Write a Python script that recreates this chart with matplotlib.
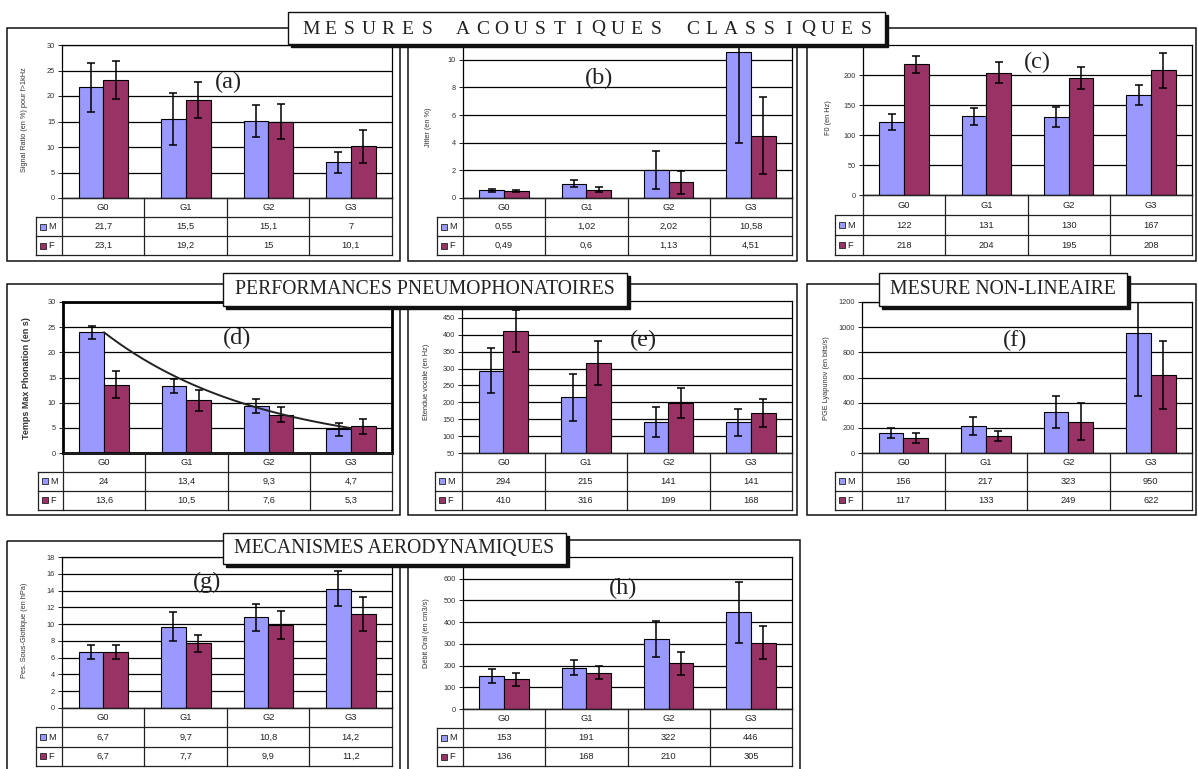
import numpy as np
import matplotlib
matplotlib.use('Agg')
import matplotlib.pyplot as plt
from matplotlib.patches import Rectangle

W, H = 1198, 769

# ---------------- data ----------------
cats = ['G0', 'G1', 'G2', 'G3']

a_M = [21.7, 15.5, 15.1, 7]
a_F = [23.1, 19.2, 15, 10.1]
a_Merr = [4.8, 5.1, 3.2, 2.0]
a_Ferr = [3.7, 3.6, 3.5, 3.2]

b_M = [0.55, 1.02, 2.02, 10.58]
b_F = [0.49, 0.6, 1.13, 4.51]
b_Merr = [0.13, 0.26, 1.39, 6.6]
b_Ferr = [0.08, 0.2, 0.83, 2.78]

c_M = [122, 131, 130, 167]
c_F = [218, 204, 195, 208]
c_Merr = [13, 14, 16, 17]
c_Ferr = [14, 17, 19, 29]

d_M = [24, 13.4, 9.3, 4.7]
d_F = [13.6, 10.5, 7.6, 5.3]
d_Merr = [1.3, 1.4, 1.4, 1.3]
d_Ferr = [2.6, 2.1, 1.5, 1.5]

e_M = [294, 215, 141, 141]
e_F = [410, 316, 199, 168]
e_Merr = [66, 69, 44, 40]
e_Ferr = [62, 65, 44, 42]

f_M = [156, 217, 323, 950]
f_F = [117, 133, 249, 622]
f_Merr = [40, 73, 127, 497]
f_Ferr = [38, 38, 148, 270]

g_M = [6.7, 9.7, 10.8, 14.2]
g_F = [6.7, 7.7, 9.9, 11.2]
g_Merr = [0.8, 1.7, 1.65, 2.1]
g_Ferr = [0.8, 1.0, 1.7, 2.0]

h_M = [153, 191, 322, 446]
h_F = [136, 168, 210, 305]
h_Merr = [32, 36, 83, 141]
h_Ferr = [28, 28, 52, 77]

M_COLOR = '#9999FF'
F_COLOR = '#993366'
SANS = 'Liberation Sans'
SERIF = 'Liberation Serif'

fig = plt.figure(figsize=(W / 100, H / 100), dpi=100)
fig.patch.set_facecolor('white')


def px_axes(x0, y0, x1, y1, z=1):
    return fig.add_axes([x0 / W, 1 - y1 / H, (x1 - x0) / W, (y1 - y0) / H], zorder=z)


ov = px_axes(0, 0, W, H, z=10)
ov.set_xlim(0, W)
ov.set_ylim(H, 0)
ov.axis('off')
ov.patch.set_visible(False)


def fmt(v):
    return f"{v:g}".replace('.', ',')


def panel(M, F, Merr, Ferr, box, plot, tbl_bottom, lab_left, ylim, yticks,
          ylabel, ylab_pos, letter, letter_pos, thick=False, ylab_fs=5.3,
          ylab_weight='normal', trend=False):
    bx0, by0, bx1, by1 = box
    ov.add_patch(Rectangle((bx0, by0), bx1 - bx0, by1 - by0, fill=False,
                           ec='#111111', lw=1.1, zorder=1))
    px0, py0, px1, py1 = plot
    ax = px_axes(px0, py0, px1, py1)
    x = np.arange(len(cats))
    w = 0.3
    ax.bar(x - w / 2, M, w, color=M_COLOR, ec='black', lw=0.8, zorder=2)
    ax.bar(x + w / 2, F, w, color=F_COLOR, ec='black', lw=0.8, zorder=2)
    ax.errorbar(x - w / 2, M, yerr=Merr, fmt='none', ecolor='black',
                elinewidth=1.1, capsize=3, capthick=1.1, zorder=3)
    ax.errorbar(x + w / 2, F, yerr=Ferr, fmt='none', ecolor='black',
                elinewidth=1.1, capsize=3, capthick=1.1, zorder=3)
    if trend:
        coef = np.polyfit(x, np.log(M), 1)
        xs = np.linspace(0, 3, 200)
        ax.plot(xs, np.exp(coef[1] + coef[0] * xs), color='#222222', lw=1.4, zorder=4)
    ax.set_xlim(-0.5, 3.5)
    ax.set_ylim(*ylim)
    ax.set_yticks(yticks)
    ax.set_yticklabels([f"{t:g}" for t in yticks], fontsize=5.3, family=SANS, color='#333333')
    ax.set_xticks([])
    ax.yaxis.grid(True, color='black', lw=0.9)
    ax.set_axisbelow(True)
    ax.tick_params(axis='y', length=3, width=0.6, pad=2)
    for s in ax.spines.values():
        s.set_color('black')
        s.set_linewidth(2.0 if thick else 0.9)
    ax.text(*letter_pos, letter, transform=ov.transData, fontsize=17.5,
            family=SERIF, ha='center', va='center', color='#222222', zorder=5)
    ov.text(ylab_pos[0], ylab_pos[1], ylabel, rotation=90, ha='center', va='center',
            fontsize=ylab_fs, family=SANS, color='#333333', fontweight=ylab_weight)

    # data table below the plot
    unit = (px1 - px0) / 4.0
    lw_u = (px0 - lab_left) / unit
    rowpx = (tbl_bottom - py1) / 3.0
    tax = px_axes(lab_left, py1, px1, tbl_bottom, z=2)
    tax.set_xlim(-0.5 - lw_u, 3.5)
    tax.set_ylim(3, 0)
    tax.axis('off')
    lk = dict(color='#222222', lw=0.9, clip_on=False)
    tax.plot([-0.5, 3.5], [0, 0], **lk)
    for yy in (1, 2, 3):
        tax.plot([-0.5 - lw_u, 3.5], [yy, yy], **lk)
    tax.plot([-0.5 - lw_u, -0.5 - lw_u], [1, 3], **lk)
    for xx in (-0.5, 0.5, 1.5, 2.5, 3.5):
        tax.plot([xx, xx], [0, 3], **lk)
    for i, c in enumerate(cats):
        tax.text(i, 0.5, c, ha='center', va='center', fontsize=6.7, family=SANS, color='#222222')
        tax.text(i, 1.5, fmt(M[i]), ha='center', va='center', fontsize=6.7, family=SANS, color='#222222')
        tax.text(i, 2.5, fmt(F[i]), ha='center', va='center', fontsize=6.7, family=SANS, color='#222222')
    ks = 6.0
    for r, (name, col) in enumerate([('M', M_COLOR), ('F', F_COLOR)]):
        yc = 1.5 + r
        tax.add_patch(Rectangle((-0.5 - lw_u + 4 / unit, yc - ks / 2 / rowpx), ks / unit, ks / rowpx,
                                fc=col, ec='#222222', lw=0.6))
        tax.text(-0.5 - lw_u + 12 / unit, yc, name, ha='left', va='center', fontsize=6.7,
                 family=SANS, color='#222222')
    return ax


# Row 1
panel(a_M, a_F, a_Merr, a_Ferr, (7, 28, 400, 261), (62, 45, 392, 198), 255, 36,
      (0, 30), np.arange(0, 31, 5), 'Signal Ratio (en %) pour f>1kHz', (25, 120), '(a)', (228, 82))
panel(b_M, b_F, b_Merr, b_Ferr, (408, 36, 797, 261), (463, 46, 792, 198), 255, 437,
      (0, 11), np.arange(0, 11, 2), 'Jitter (en %)', (428, 127), '(b)', (599, 78))
panel(c_M, c_F, c_Merr, c_Ferr, (807, 28, 1196, 261), (863, 45, 1192, 195), 255, 835,
      (0, 250), np.arange(0, 201, 50), 'F0 (en Hz)', (828, 118), '(c)', (1037, 62))
# Row 2
panel(d_M, d_F, d_Merr, d_Ferr, (7, 284, 400, 515), (63, 302, 392, 453), 510, 38,
      (0, 30), np.arange(0, 31, 5), 'Temps Max Phonation (en s)', (27, 378), '(d)', (237, 338),
      thick=True, ylab_fs=6.5, ylab_weight='bold', trend=True)
panel(e_M, e_F, e_Merr, e_Ferr, (408, 284, 797, 515), (462, 301, 792, 453), 510, 435,
      (50, 500), np.arange(50, 451, 50), 'Etendue vocale (en Hz)', (426, 382), '(e)', (643, 340))
panel(f_M, f_F, f_Merr, f_Ferr, (807, 284, 1196, 515), (862, 302, 1192, 453), 510, 835,
      (0, 1200), np.arange(0, 1201, 200), 'PGE Lyapunov (en bits/s)', (827, 378), '(f)', (1015, 340))
# Row 3
panel(g_M, g_F, g_Merr, g_Ferr, (7, 541, 400, 775), (62, 557, 392, 708), 766, 36,
      (0, 18), np.arange(0, 19, 2), 'Pes. Sous-Glottique (en hPa)', (25, 630), '(g)', (207, 582))
panel(h_M, h_F, h_Merr, h_Ferr, (408, 540, 800, 775), (463, 557, 792, 709), 766, 437,
      (0, 700), np.arange(0, 601, 100), 'Débit Oral (en cm3/s)', (427, 633), '(h)', (623, 588))


# ---------------- banners ----------------
def banner(x0, y0, x1, y1):
    ov.add_patch(Rectangle((x0 + 2.5, y0 + 2.5), x1 - x0, y1 - y0, fc='#111111', ec='#111111',
                           lw=1, zorder=5))
    ov.add_patch(Rectangle((x0, y0), x1 - x0, y1 - y0, fc='white', ec='#111111', lw=1, zorder=6))


banner(288, 12, 885, 44)
words = ['MESURES', 'ACOUSTIQUES', 'CLASSIQUES']
pitch, extra = 19.3, 17.0
xc = 311.0
for wi, wd in enumerate(words):
    for ci, ch in enumerate(wd):
        ov.text(xc, 29, ch, ha='center', va='center', fontsize=14, family=SERIF,
                color='#222222', zorder=7)
        xc += pitch
    xc += extra

banner(223, 273, 627, 306)
ov.text(425, 290, 'PERFORMANCES PNEUMOPHONATOIRES', ha='center', va='center', fontsize=14.2,
        family=SERIF, color='#222222', zorder=7)
banner(879, 273, 1127, 306)
ov.text(1003, 290, 'MESURE NON-LINEAIRE', ha='center', va='center', fontsize=14.2,
        family=SERIF, color='#222222', zorder=7)
banner(223, 533, 566, 564)
ov.text(394.5, 549, 'MECANISMES AERODYNAMIQUES', ha='center', va='center', fontsize=14.2,
        family=SERIF, color='#222222', zorder=7)

fig.savefig('out.png', dpi=100, facecolor='white')
